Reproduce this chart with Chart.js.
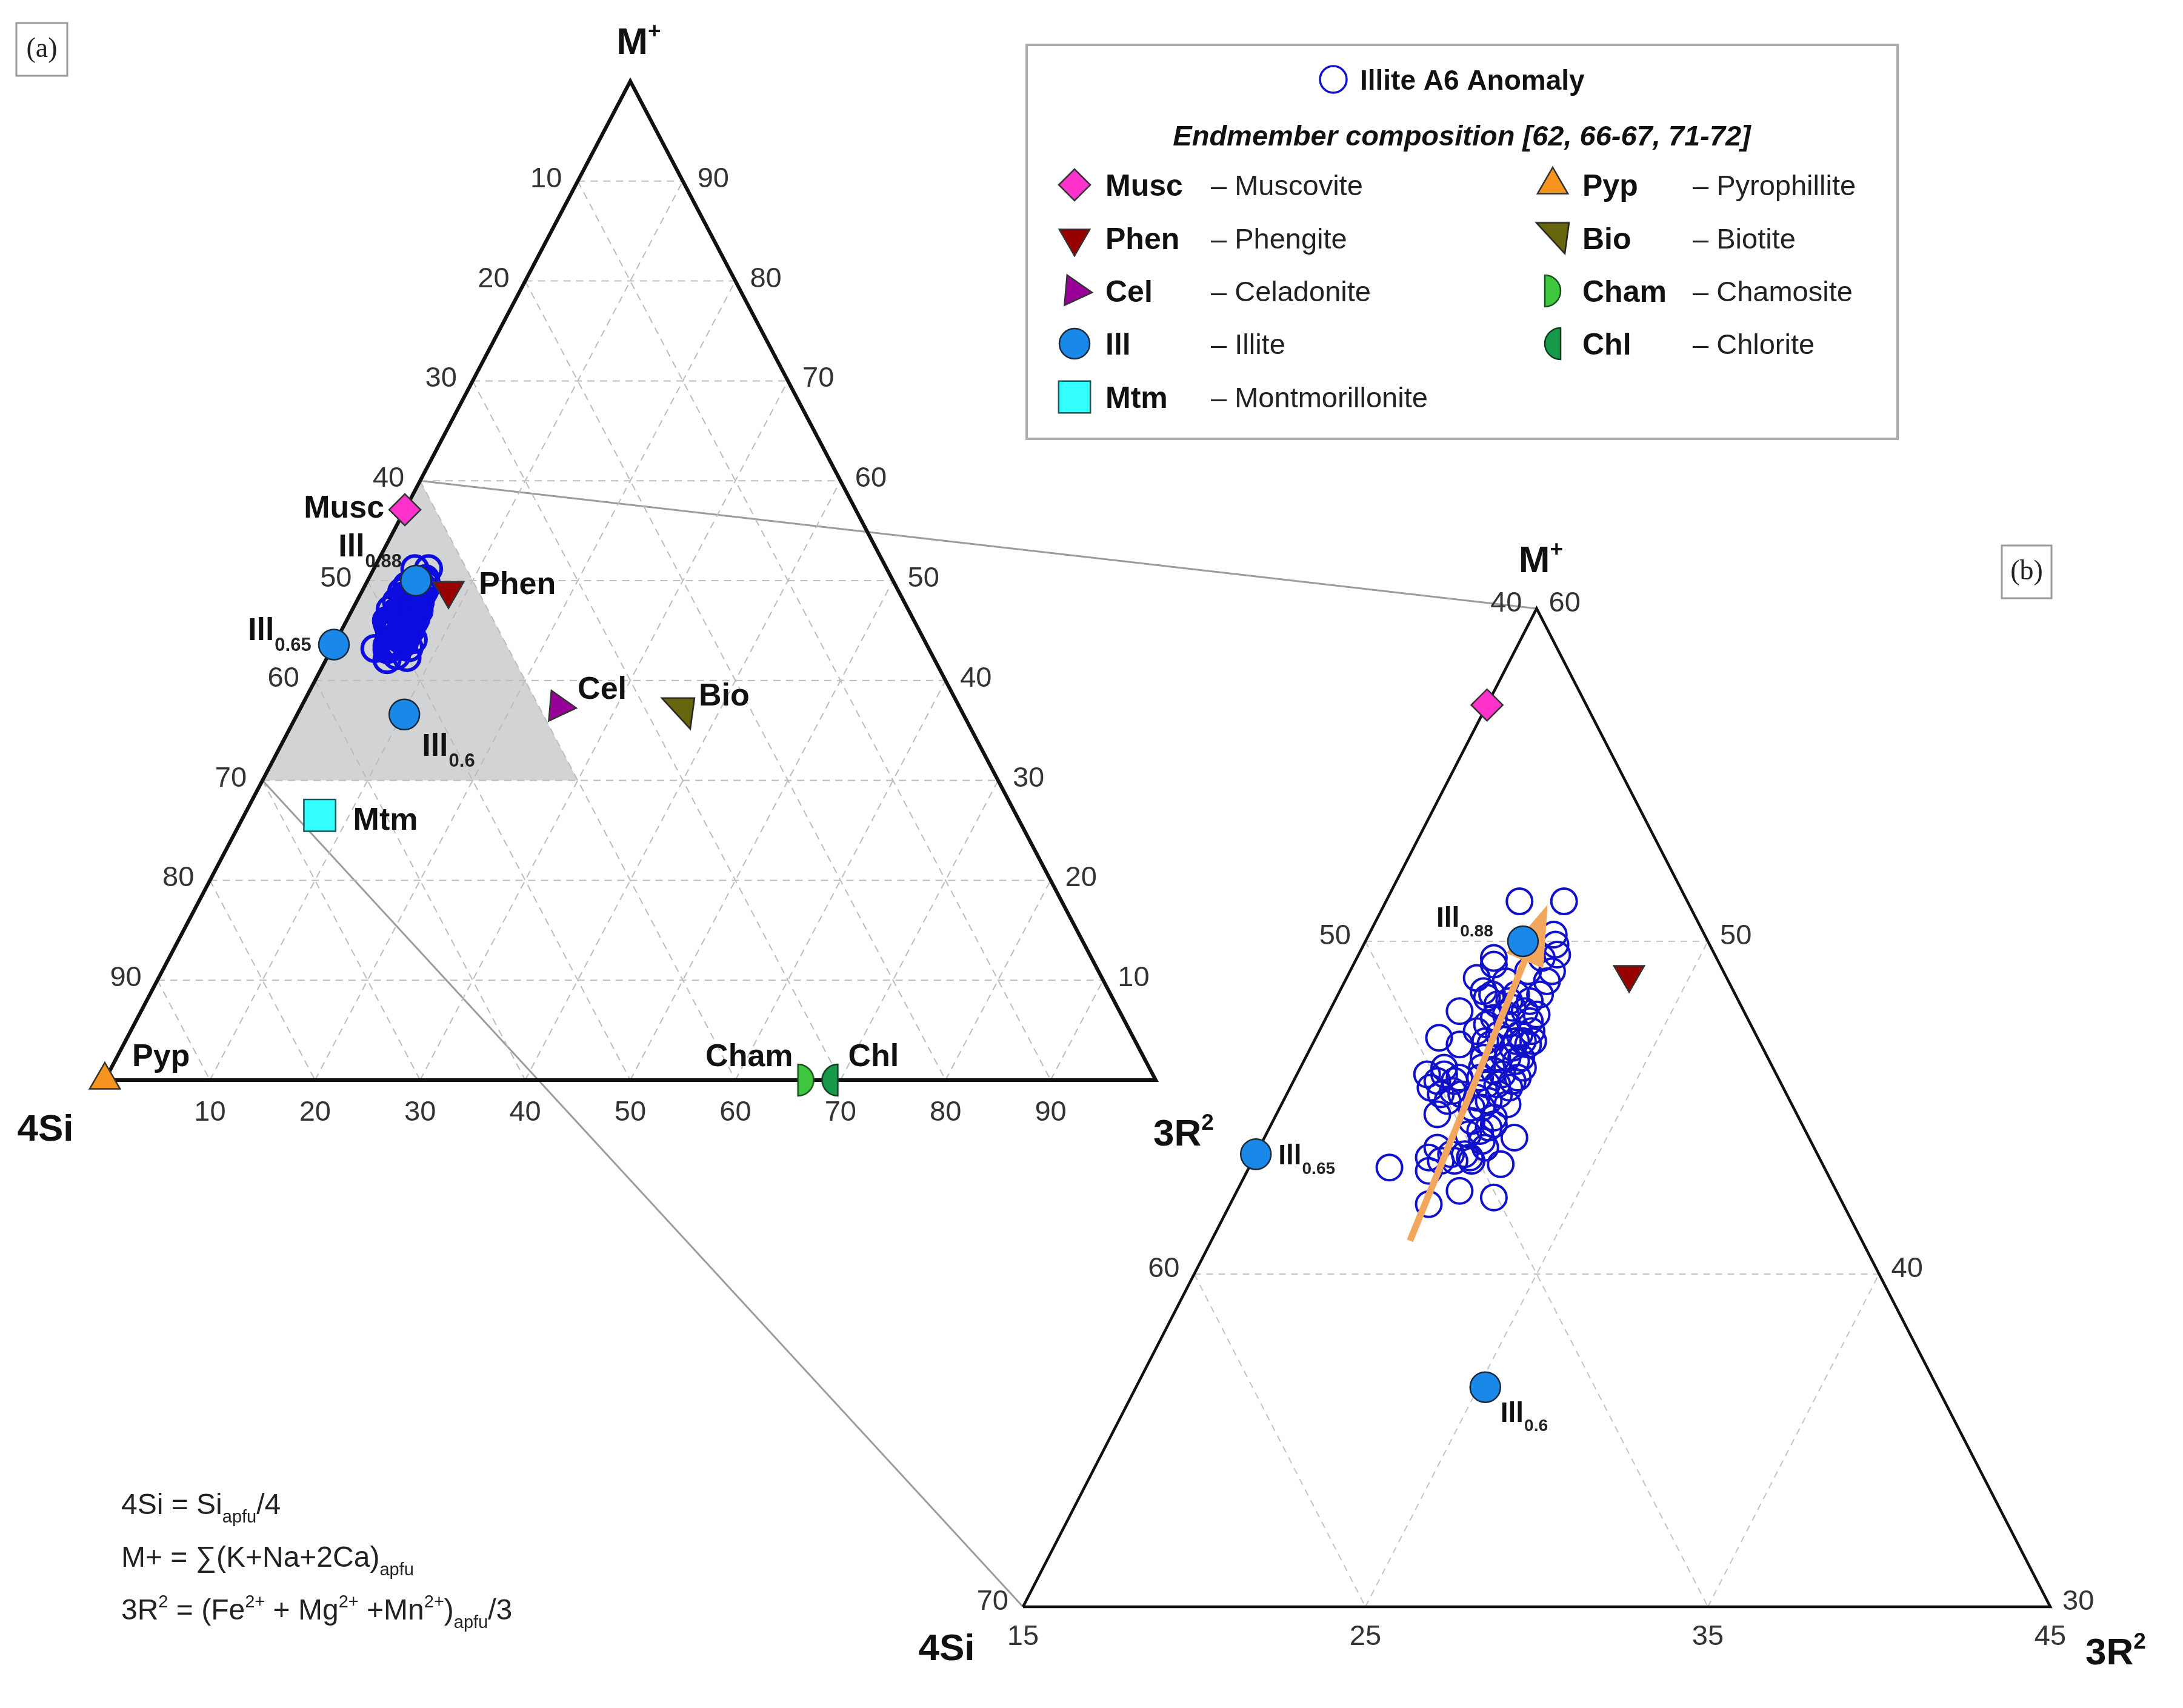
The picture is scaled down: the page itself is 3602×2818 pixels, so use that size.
<!DOCTYPE html>
<html lang="en">
<head>
<meta charset="UTF-8">
<title>4Si - M+ - 3R2 ternary diagram</title>
<script src="https://cdn.jsdelivr.net/npm/chart.js@4.4.1/dist/chart.umd.min.js"></script>
<style>
    html, body { margin: 0; padding: 0; background: #fff; }
    #wrap { position: relative; width: 3602px; height: 2818px; }
</style>
</head>
<body>
<div id="wrap"><canvas id="ternary"></canvas></div>
<script>
// ---------- data (all in %, 4Si + M+ + 3R2 = 100) ----------
const endNames = ['Musc', 'Phen', 'Cel', 'Ill0.88', 'Ill0.65', 'Ill0.6', 'Mtm', 'Pyp', 'Bio', 'Cham', 'Chl'];
const endKind  = ['Musc', 'Phen', 'Cel', 'Ill', 'Ill', 'Ill', 'Mtm', 'Pyp', 'Bio', 'Cham', 'Chl'];
const endSi    = [42.9, 42.8, 38.1, 45.4, 56.4, 53.2, 66.3, 100, 27.1, 33.3, 31.0];
const endM     = [57.1, 49.0, 37.4, 50.0, 43.6, 36.6, 26.5, 0, 36.7, 0, 0];
const endR     = [0, 8.2, 24.5, 4.6, 0, 10.2, 7.2, 0, 36.2, 66.7, 69.0];
const inZoom   = ['Musc', 'Phen', 'Ill0.88', 'Ill0.65', 'Ill0.6'];

// Illite A6 anomaly analyses
const anomSi = [44.9, 43.6, 44.4, 44.5, 44.6, 45.0, 45.3, 46.5, 46.6, 46.5,
                47.3, 47.3, 48.3, 49.3, 46.4, 46.1, 46.1, 46.5, 46.9, 47.0,
                47.4, 48.1, 48.0, 48.8, 47.1, 46.9, 46.8, 47.3, 46.6, 47.2,
                46.4, 52.7, 50.5, 51.6, 52.1, 51.0, 50.1, 49.4, 48.6, 50.2,
                51.0, 50.7, 50.0, 49.7, 49.7, 49.5, 50.3, 47.9, 47.4, 48.5,
                48.0, 47.6, 48.6, 48.0, 49.1, 48.4, 49.1, 48.9, 49.6, 49.2,
                49.9, 49.6, 49.6, 49.5, 50.1, 51.4, 51.1, 50.3, 50.2, 50.7,
                47.3, 45.1, 47.1, 46.7, 45.7, 45.7, 47.1, 46.7, 46.4, 47.7,
                47.5, 47.1, 47.9, 47.6, 48.3, 47.3, 48.2, 47.8, 48.7, 48.3,
                48.3, 48.8, 49.4, 49.0, 49.5, 49.6, 50.2, 50.0, 49.3];
const anomM  = [51.2, 51.2, 50.2, 49.9, 49.6, 49.1, 48.8, 49.5, 49.3, 48.8,
                48.5, 48.3, 47.9, 47.1, 48.4, 48.2, 47.8, 47.3, 47.0, 47.8,
                47.7, 47.3, 47.0, 46.9, 47.5, 47.2, 46.9, 46.8, 47.0, 46.5,
                47.6, 43.2, 44.8, 43.1, 42.1, 42.5, 42.3, 43.3, 44.1, 43.5,
                43.8, 43.6, 45.8, 46.0, 45.5, 45.4, 45.6, 46.5, 46.4, 46.2,
                46.0, 45.9, 45.7, 45.6, 45.3, 45.4, 45.0, 44.7, 44.6, 44.4,
                44.2, 44.0, 46.2, 45.8, 45.4, 43.5, 43.4, 43.6, 43.4, 43.4,
                48.9, 49.5, 48.4, 48.2, 49.1, 48.4, 48.1, 48.0, 47.9, 47.5,
                47.2, 47.0, 46.9, 46.5, 46.5, 46.2, 46.1, 45.8, 45.9, 45.7,
                45.1, 45.2, 45.0, 44.5, 44.3, 43.8, 46.0, 45.2, 45.9];
const anomR  = [3.9, 5.2, 5.4, 5.6, 5.8, 5.9, 5.9, 4.0, 4.1, 4.7,
                4.2, 4.4, 3.8, 3.6, 5.2, 5.7, 6.1, 6.2, 6.1, 5.2,
                4.9, 4.6, 5.0, 4.3, 5.4, 5.9, 6.3, 5.9, 6.4, 6.3,
                6.0, 4.1, 4.7, 5.3, 5.8, 6.5, 7.6, 7.3, 7.3, 6.3,
                5.2, 5.7, 4.2, 4.3, 4.8, 5.1, 4.1, 5.6, 6.2, 5.3,
                6.0, 6.5, 5.7, 6.4, 5.6, 6.2, 5.9, 6.4, 5.8, 6.4,
                5.9, 6.4, 4.2, 4.7, 4.5, 5.1, 5.5, 6.1, 6.4, 5.9,
                3.8, 5.4, 4.5, 5.1, 5.2, 5.9, 4.8, 5.3, 5.7, 4.8,
                5.3, 5.9, 5.2, 5.9, 5.2, 6.5, 5.7, 6.4, 5.4, 6.0,
                6.6, 6.0, 5.6, 6.5, 6.2, 6.6, 3.8, 4.8, 4.8];

// trend arrow in (b): tail, head
const arrowM = [41.0, 50.8];
const arrowR = [5.8, 4.8];

// zoom window (4Si, M+, 3R2) shown enlarged in (b)
const zoomTop   = [40, 60, 0];
const zoomLeft  = [70, 30, 0];
const zoomRight = [40, 30, 30];

// ticks
const ticksA = [10, 20, 30, 40, 50, 60, 70, 80, 90];
const zoomGridM  = [50, 40];
const zoomGridSi = [50, 60];
const zoomGridR  = [10, 20];
const zoomLeftTicks   = [40, 50, 60, 70];   // 4Si
const zoomRightTicks  = [60, 50, 40, 30];   // M+
const zoomBottomTicks = [15, 25, 35, 45];

const legendAbbr = ['Musc', 'Phen', 'Cel', 'Ill', 'Mtm', 'Pyp', 'Bio', 'Cham', 'Chl'];
const legendDesc = ['Muscovite', 'Phengite', 'Celadonite', 'Illite', 'Montmorillonite',
                    'Pyrophillite', 'Biotite', 'Chamosite', 'Chlorite'];

// ---------- layout ----------
const W = 3602, H = 2818;
const FONT = '"Liberation Sans", Arial, Helvetica, sans-serif';
const frameA = { left: 173, right: 1907, base: 1782, apex: 134 };
const frameB = { left: 1688, right: 3383, base: 2651, apex: 1004 };

function range(p0, p1, v0, v1, size) {
    const k = (v1 - v0) / (p1 - p0);
    const a = v0 - p0 * k, b = v0 + (size - p0) * k;
    return { min: Math.min(a, b), max: Math.max(a, b) };
}
// ternary -> cartesian (X along base, Y = M+)
function pt(m, r) { return { x: r + m / 2, y: m }; }

// little canvases for markers Chart.js has no built-in for
function markerCanvas(w, h, draw) {
    const c = document.createElement('canvas');
    c.width = w; c.height = h;
    draw(c.getContext('2d'));
    return c;
}
const bioImg = markerCanvas(60, 57, g => {
    g.beginPath(); g.moveTo(3, 3); g.lineTo(57, 3); g.lineTo(50, 54); g.closePath();
    g.fillStyle = '#67660f'; g.fill(); g.lineWidth = 2.5; g.strokeStyle = '#222'; g.stroke();
});
const chamImg = markerCanvas(32, 58, g => {
    g.beginPath(); g.arc(3, 29, 26, -Math.PI / 2, Math.PI / 2); g.closePath();
    g.fillStyle = '#3ec63e'; g.fill(); g.lineWidth = 2.5; g.strokeStyle = '#1d4d1d'; g.stroke();
});
const chlImg = markerCanvas(32, 58, g => {
    g.beginPath(); g.arc(29, 29, 26, Math.PI / 2, Math.PI * 1.5); g.closePath();
    g.fillStyle = '#17994a'; g.fill(); g.lineWidth = 2.5; g.strokeStyle = '#0e3d1e'; g.stroke();
});

const markerStyle = {
    Musc: { style: 'rectRot', r: 26, fill: '#ff33cc', edge: '#333' },
    Phen: { style: 'triangle', rot: 180, r: 29, fill: '#990000', edge: '#333' },
    Cel:  { style: 'triangle', rot: 95, r: 29, fill: '#990099', edge: '#333' },
    Ill:  { style: 'circle', r: 25, fill: '#1a88e8', edge: '#1a2a3a' },
    Mtm:  { style: 'rect', r: 37, fill: '#33ffff', edge: '#225555' },
    Pyp:  { style: 'triangle', rot: 0, r: 29, fill: '#f7941d', edge: '#333' },
    Bio:  { style: bioImg, r: 28 },
    Cham: { style: chamImg, r: 27 },
    Chl:  { style: chlImg, r: 27 }
};

// point labels: offsets from the marker (px)
const labelsA = {
    'Musc':    { main: 'Musc', dx: -34, dy: 13, align: 'right' },
    'Ill0.88': { main: 'Ill', sub: '0.88', dx: -128, dy: -40 },
    'Phen':    { main: 'Phen', dx: 50, dy: 6 },
    'Ill0.65': { main: 'Ill', sub: '0.65', dx: -142, dy: -7 },
    'Cel':     { main: 'Cel', dx: 31, dy: -13 },
    'Bio':     { main: 'Bio', dx: 34, dy: -13 },
    'Ill0.6':  { main: 'Ill', sub: '0.6', dx: 29, dy: 68 },
    'Mtm':     { main: 'Mtm', dx: 55, dy: 24 },
    'Pyp':     { main: 'Pyp', dx: 45, dy: -23 },
    'Cham':    { main: 'Cham', dx: -21, dy: -23, align: 'right' },
    'Chl':     { main: 'Chl', dx: 30, dy: -23 }
};
const labelsB = {
    'Ill0.88': { main: 'Ill', sub: '0.88', dx: -143, dy: -24 },
    'Ill0.65': { main: 'Ill', sub: '0.65', dx: 37, dy: 17 },
    'Ill0.6':  { main: 'Ill', sub: '0.6', dx: 25, dy: 57 }
};

// ---------- datasets ----------
const datasets = [];
function lineDs(p, q, panel, style) {
    return Object.assign({ data: [p, q], showLine: true, pointRadius: 0, fill: false,
        xAxisID: 'x' + panel, yAxisID: 'y' + panel }, style);
}
const gridA = { borderColor: '#bdbdbd', borderWidth: 2, borderDash: [12, 9], order: 100 };
const gridB = { borderColor: '#c4c4c4', borderWidth: 2, borderDash: [11, 9], order: 100 };

ticksA.forEach(k => {
    datasets.push(lineDs(pt(k, 0), pt(k, 100 - k), 'a', gridA));        // M+ = k
    datasets.push(lineDs(pt(100 - k, 0), pt(0, 100 - k), 'a', gridA));  // 4Si = k
    datasets.push(lineDs(pt(0, k), pt(100 - k, k), 'a', gridA));        // 3R2 = k
});
const baseM = zoomLeft[1], rightSi = zoomTop[0];
zoomGridM.forEach(m => datasets.push(lineDs(pt(m, 0), pt(m, 100 - rightSi - m), 'b', gridB)));
zoomGridSi.forEach(s => datasets.push(lineDs(pt(100 - s, 0), pt(baseM, 100 - s - baseM), 'b', gridB)));
zoomGridR.forEach(r => datasets.push(lineDs(pt(baseM, r), pt(100 - rightSi - r, r), 'b', gridB)));

// triangle outlines
datasets.push({ data: [pt(0, 0), pt(100, 0), pt(0, 100), pt(0, 0)], showLine: true, pointRadius: 0,
    borderColor: '#111', borderWidth: 6, borderJoinStyle: 'miter', xAxisID: 'xa', yAxisID: 'ya', order: 90 });
datasets.push({ data: [pt(zoomLeft[1], zoomLeft[2]), pt(zoomTop[1], zoomTop[2]), pt(zoomRight[1], zoomRight[2]), pt(zoomLeft[1], zoomLeft[2])],
    showLine: true, pointRadius: 0, borderColor: '#111', borderWidth: 4.5, borderJoinStyle: 'miter',
    xAxisID: 'xb', yAxisID: 'yb', order: 90 });

// anomaly samples in both panels
const anomPts = anomM.map((m, i) => pt(m, anomR[i]));
['a', 'b'].forEach(p => datasets.push({
    label: 'Illite A6 Anomaly', data: anomPts, pointStyle: 'circle', pointRadius: 21,
    borderWidth: p === 'a' ? 6 : 4, borderColor: p === 'a' ? '#0c0ce0' : '#1111cc',
    backgroundColor: 'rgba(0,0,0,0)', xAxisID: 'x' + p, yAxisID: 'y' + p, order: 50
}));

// trend arrow (shaft); head added by the plugin
datasets.push({ label: 'trend', data: arrowM.map((m, i) => pt(m, arrowR[i])), showLine: true,
    pointRadius: 0, borderColor: '#f2a65e', borderWidth: 11, borderCapStyle: 'butt',
    xAxisID: 'xb', yAxisID: 'yb', order: 40 });

// endmembers
endNames.forEach((n, i) => {
    const st = markerStyle[endKind[i]];
    const base = { label: n, data: [pt(endM[i], endR[i])], pointStyle: st.style, rotation: st.rot || 0,
        pointRadius: st.r, backgroundColor: st.fill || '#000', borderColor: st.edge || '#333',
        borderWidth: 2.5, order: endKind[i] === 'Ill' ? 5 : 10 };
    datasets.push(Object.assign({}, base, { xAxisID: 'xa', yAxisID: 'ya' }));
    if (inZoom.includes(n)) datasets.push(Object.assign({}, base, { xAxisID: 'xb', yAxisID: 'yb' }));
});

// ---------- drawing helpers ----------
function P(chart, panel, m, r) {
    const q = pt(m, r);
    return { x: chart.scales['x' + panel].getPixelForValue(q.x), y: chart.scales['y' + panel].getPixelForValue(q.y) };
}
function text(ctx, s, x, y, font, align, base, color) {
    ctx.font = font; ctx.textAlign = align || 'left'; ctx.textBaseline = base || 'alphabetic';
    ctx.fillStyle = color || '#111'; ctx.fillText(s, x, y);
}
// runs: [text, '' | 'sub' | 'sup']
function rich(ctx, runs, x, y, size, weight, align, color) {
    const f = k => `${weight} ${k ? Math.round(size * 0.6) : size}px ${FONT}`;
    const widths = runs.map(([t, k]) => { ctx.font = f(k); return ctx.measureText(t).width; });
    const total = widths.reduce((a, b) => a + b, 0);
    let cx = align === 'center' ? x - total / 2 : align === 'right' ? x - total : x;
    ctx.textAlign = 'left'; ctx.textBaseline = 'alphabetic'; ctx.fillStyle = color || '#111';
    runs.forEach(([t, k], i) => {
        ctx.font = f(k);
        const dy = k === 'sub' ? size * 0.3 : k === 'sup' ? -size * 0.42 : 0;
        ctx.fillText(t, cx, y + dy);
        cx += widths[i];
    });
}
function pointLabel(ctx, p, lab, size) {
    ctx.font = `bold ${size}px ${FONT}`;
    const w = ctx.measureText(lab.main).width;
    let x = p.x + lab.dx;
    if (lab.align === 'right') x -= w;
    text(ctx, lab.main, x, p.y + lab.dy, `bold ${size}px ${FONT}`, 'left', 'alphabetic', '#111');
    if (lab.sub) text(ctx, lab.sub, x + w + 1, p.y + lab.dy + size * 0.34,
        `bold ${Math.round(size * 0.6)}px ${FONT}`, 'left', 'alphabetic', '#222');
}
function legendMarker(ctx, kind, x, y) {
    const st = markerStyle[kind];
    ctx.save();
    ctx.fillStyle = st.fill || '#000'; ctx.strokeStyle = st.edge || '#333'; ctx.lineWidth = 2.5;
    if (Chart.helpers && Chart.helpers.drawPoint) {
        Chart.helpers.drawPoint(ctx, { pointStyle: st.style, rotation: st.rot || 0, radius: st.r, borderWidth: 2.5 }, x, y);
    }
    ctx.restore();
}

const ternaryPlugin = {
    id: 'ternaryDecor',
    beforeDatasetsDraw(chart) {
        const ctx = chart.ctx;
        const t = P(chart, 'a', zoomTop[1], zoomTop[2]);
        const l = P(chart, 'a', zoomLeft[1], zoomLeft[2]);
        const r = P(chart, 'a', zoomRight[1], zoomRight[2]);
        ctx.save();
        ctx.fillStyle = '#d1d3d4';
        ctx.beginPath(); ctx.moveTo(t.x, t.y); ctx.lineTo(l.x, l.y); ctx.lineTo(r.x, r.y); ctx.closePath(); ctx.fill();
        // connectors to the enlarged panel
        const tb = P(chart, 'b', zoomTop[1], zoomTop[2]);
        const lb = P(chart, 'b', zoomLeft[1], zoomLeft[2]);
        ctx.strokeStyle = '#9c9c9c'; ctx.lineWidth = 3;
        ctx.beginPath(); ctx.moveTo(t.x, t.y); ctx.lineTo(tb.x, tb.y);
        ctx.moveTo(l.x, l.y); ctx.lineTo(lb.x, lb.y); ctx.stroke();
        ctx.restore();
    },
    afterDatasetDraw(chart, args) {
        if (chart.data.datasets[args.index].label !== 'trend') return;
        const pts = args.meta.data, p0 = pts[0], p1 = pts[pts.length - 1];
        const ang = Math.atan2(p1.y - p0.y, p1.x - p0.x);
        const ctx = chart.ctx, len = 100, half = 33, ext = 18;
        const tx = p1.x + Math.cos(ang) * ext, ty = p1.y + Math.sin(ang) * ext;
        const bx = tx - Math.cos(ang) * len, by = ty - Math.sin(ang) * len;
        ctx.save();
        ctx.fillStyle = '#f2a65e';
        ctx.beginPath();
        ctx.moveTo(tx, ty);
        ctx.lineTo(bx - Math.sin(ang) * half, by + Math.cos(ang) * half);
        ctx.lineTo(bx + Math.sin(ang) * half, by - Math.cos(ang) * half);
        ctx.closePath(); ctx.fill();
        ctx.restore();
    },
    afterDraw(chart) {
        const ctx = chart.ctx;
        const tick = `47px ${FONT}`, tickCol = '#333';
        ctx.save();
        // ---- panel (a) ticks ----
        ticksA.forEach(k => {
            const l = P(chart, 'a', 100 - k, 0);
            text(ctx, String(k), l.x - 26, l.y - 3, tick, 'right', 'middle', tickCol);
            const r = P(chart, 'a', k, 100 - k);
            text(ctx, String(k), r.x + 24, r.y - 3, tick, 'left', 'middle', tickCol);
            const b = P(chart, 'a', 0, k);
            text(ctx, String(k), b.x, b.y + 54, tick, 'center', 'middle', tickCol);
        });
        // ---- panel (b) ticks ----
        zoomLeftTicks.forEach(s => {
            const p = P(chart, 'b', 100 - s, 0);
            text(ctx, String(s), p.x - 24, p.y - 8, tick, 'right', 'middle', tickCol);
        });
        zoomRightTicks.forEach(m => {
            const p = P(chart, 'b', m, 100 - rightSi - m);
            text(ctx, String(m), p.x + 20, p.y - 8, tick, 'left', 'middle', tickCol);
        });
        zoomBottomTicks.forEach(v => {
            const p = P(chart, 'b', baseM, v - baseM / 2);
            text(ctx, String(v), p.x, p.y + 50, tick, 'center', 'middle', tickCol);
        });

        // ---- axis titles ----
        const ta = P(chart, 'a', 100, 0), la = P(chart, 'a', 0, 0), ra = P(chart, 'a', 0, 100);
        rich(ctx, [['M', ''], ['+', 'sup']], ta.x + 14, ta.y - 45, 62, 'bold', 'center');
        rich(ctx, [['4Si', '']], la.x - 98, la.y + 100, 62, 'bold', 'center');
        rich(ctx, [['3R', ''], ['2', 'sup']], ra.x + 46, ra.y + 108, 62, 'bold', 'center');
        const tb = P(chart, 'b', zoomTop[1], zoomTop[2]);
        const lb = P(chart, 'b', zoomLeft[1], zoomLeft[2]);
        const rb = P(chart, 'b', zoomRight[1], zoomRight[2]);
        rich(ctx, [['M', ''], ['+', 'sup']], tb.x + 7, tb.y - 60, 62, 'bold', 'center');
        rich(ctx, [['4Si', '']], lb.x - 126, lb.y + 88, 62, 'bold', 'center');
        rich(ctx, [['3R', ''], ['2', 'sup']], rb.x + 108, rb.y + 95, 62, 'bold', 'center');

        // ---- point labels ----
        endNames.forEach((n, i) => {
            if (labelsA[n]) pointLabel(ctx, P(chart, 'a', endM[i], endR[i]), labelsA[n], 52);
            if (labelsB[n]) pointLabel(ctx, P(chart, 'b', endM[i], endR[i]), labelsB[n], 46);
        });

        // ---- panel tags ----
        ctx.strokeStyle = '#9a9a9a'; ctx.lineWidth = 3;
        ctx.strokeRect(27, 38, 84, 87);
        text(ctx, '(a)', 69, 82, `46px "Liberation Serif", "Times New Roman", serif`, 'center', 'middle', '#222');
        ctx.strokeRect(3303, 900, 82, 87);
        text(ctx, '(b)', 3344, 944, `46px "Liberation Serif", "Times New Roman", serif`, 'center', 'middle', '#222');

        // ---- legend ----
        ctx.strokeStyle = '#acacac'; ctx.lineWidth = 4;
        ctx.strokeRect(1694, 74, 1437, 650);
        ctx.beginPath(); ctx.arc(2200, 131, 22, 0, Math.PI * 2);
        ctx.strokeStyle = '#1111cc'; ctx.lineWidth = 3.5; ctx.stroke();
        text(ctx, 'Illite A6 Anomaly', 2244, 148, `bold 46px ${FONT}`, 'left', 'alphabetic', '#111');
        text(ctx, 'Endmember composition [62, 66-67, 71-72]', 2412, 240, `italic bold 47px ${FONT}`, 'center', 'alphabetic', '#111');
        const rowY = [305, 393, 480, 567, 655];
        const colMark = [1773, 2562], colAbbr = [1824, 2611], colDesc = [1998, 2793];
        legendAbbr.forEach((ab, i) => {
            const c = i < 5 ? 0 : 1, rY = rowY[i < 5 ? i : i - 5];
            legendMarker(ctx, ab, colMark[c], rY);
            text(ctx, ab, colAbbr[c], rY + 18, `bold 50px ${FONT}`, 'left', 'alphabetic', '#111');
            text(ctx, '\u2013 ' + legendDesc[i], colDesc[c], rY + 17, `47px ${FONT}`, 'left', 'alphabetic', '#222');
        });

        // ---- definitions ----
        rich(ctx, [['4Si = Si', ''], ['apfu', 'sub'], ['/4', '']], 200, 2498, 48, 'normal', 'left', '#222');
        rich(ctx, [['M+ = \u2211(K+Na+2Ca)', ''], ['apfu', 'sub']], 200, 2585, 48, 'normal', 'left', '#222');
        rich(ctx, [['3R', ''], ['2', 'sup'], [' = (Fe', ''], ['2+', 'sup'], [' + Mg', ''], ['2+', 'sup'],
                   [' +Mn', ''], ['2+', 'sup'], [')', ''], ['apfu', 'sub'], ['/3', '']], 200, 2672, 48, 'normal', 'left', '#222');
        ctx.restore();
    }
};

const hidden = { type: 'linear', display: false, bounds: 'data' };
new Chart(document.getElementById('ternary'), {
    type: 'scatter',
    data: { datasets },
    options: {
        responsive: true,
        maintainAspectRatio: false,
        animation: false,
        devicePixelRatio: 1,
        events: [],
        layout: { padding: 0, autoPadding: false },
        scales: {
            xa: Object.assign({}, hidden, { axis: 'x' }, range(frameA.left, frameA.right, 0, 100, W)),
            ya: Object.assign({}, hidden, { axis: 'y' }, range(frameA.base, frameA.apex, 0, 100, H)),
            xb: Object.assign({}, hidden, { axis: 'x' }, range(frameB.left, frameB.right,
                    zoomLeft[2] + zoomLeft[1] / 2, zoomRight[2] + zoomRight[1] / 2, W)),
            yb: Object.assign({}, hidden, { axis: 'y' }, range(frameB.base, frameB.apex, zoomLeft[1], zoomTop[1], H))
        },
        plugins: { legend: { display: false }, tooltip: { enabled: false } }
    },
    plugins: [ternaryPlugin]
});
</script>
</body>
</html>
